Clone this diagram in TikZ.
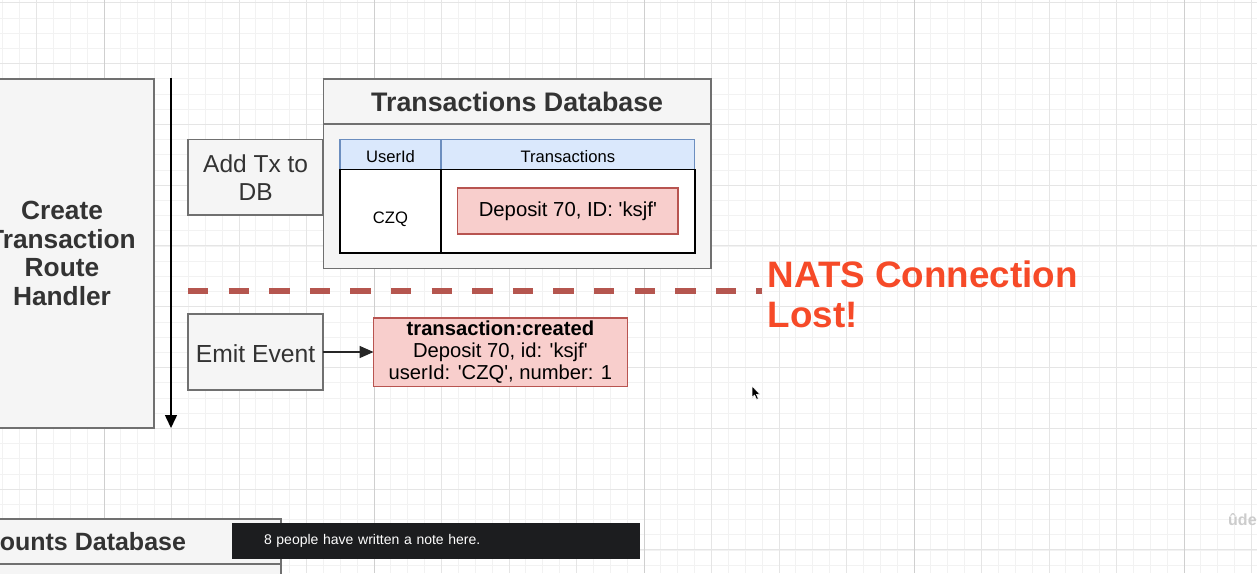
\documentclass[tikz,border=0pt]{standalone}
\usepackage{fontspec}
\setmainfont{Liberation Sans}[Ligatures=TeXOff]
\usetikzlibrary{positioning,arrows.meta}

\definecolor{boxfill}{HTML}{F5F5F5}
\definecolor{boxline}{HTML}{707070}
\definecolor{boxtext}{HTML}{333333}
\definecolor{redfill}{HTML}{F8CECC}
\definecolor{redline}{HTML}{B85450}
\definecolor{bluefill}{HTML}{DAE8FC}
\definecolor{blueline}{HTML}{6C8EBF}
\definecolor{lostred}{HTML}{F64A28}
\definecolor{lossdash}{HTML}{B5564F}
\definecolor{tipbg}{HTML}{1C1D1F}

\begin{document}
\begin{tikzpicture}[x=1pt, y=-1pt,
  greybox/.style={draw=boxline, fill=boxfill, line width=1.6, text=boxtext,
                  inner sep=0, outer sep=0, align=center},
  redbox/.style={draw=redline, fill=redfill, line width=1.3, inner sep=0,
                 outer sep=0, align=center},
  headcell/.style={draw=blueline, fill=bluefill, line width=1.3, inner sep=0,
                   outer sep=0, text height=17pt, text depth=0pt,
                   font=\fontsize{16.6}{19}\selectfont},
  cell/.style={draw=black, fill=white, line width=1.6, inner sep=0, outer sep=0,
               font=\fontsize{16.6}{19}\selectfont},
  arr/.style={-{Triangle[length=13pt, width=12pt]}, line width=1.5},
  gridminor/.style={draw=black!5, line width=0.8},
  gridmid/.style={draw=black!10, line width=0.9},
  griddark/.style={draw=black!19, line width=1}
]
\useasboundingbox (0,0) rectangle (1257,573);
\clip (0,0) rectangle (1257,573);
\fill[white] (0,0) rectangle (1257,573);

% Grid
\foreach \i in {0,...,74} \draw[gridminor] ({2.75+16.875*\i},0) -- ({2.75+16.875*\i},573);
\foreach \j in {0,...,37} \draw[gridminor] (0,{2.7+15.2*\j}) -- (1257,{2.7+15.2*\j});
\foreach \i in {0,...,18} \draw[gridmid] ({36.5+67.5*\i},0) -- ({36.5+67.5*\i},573);
\foreach \j in {0,...,9} \draw[gridmid] (0,{2.7+60.8*\j}) -- (1257,{2.7+60.8*\j});
\foreach \i in {0,...,4} \draw[griddark] ({104+270*\i},0) -- ({104+270*\i},573);

% Route handler
\node[greybox, minimum width=184, minimum height=349,
      font=\fontsize{26.3}{28.8}\selectfont\bfseries] (handler) at (62,253.5)
  {Create\\Transaction\\Route\\Handler};
\coordinate (flowtop) at (171,78);
\coordinate (flowend) at (171,428);
\draw[arr] (flowtop) -- (flowend);

% Steps
\node[greybox, minimum width=135.3, minimum height=75.7,
      font=\fontsize{24.5}{28}\selectfont] (addtx) at (255.6,177.2) {Add Tx to\\DB};
\node[greybox, minimum width=135.3, minimum height=76, text height=20pt, text depth=0pt,
      font=\fontsize{24.7}{28}\selectfont] (emit) at (255.6,352) {Emit Event};

% Transactions database
\node[greybox, minimum width=387.7, minimum height=45,
      font=\fontsize{26.8}{30}\selectfont\bfseries] (dbtitle) at (517.2,101.5)
  {Transactions Database};
\node[greybox, minimum width=387.7, minimum height=144.3, below=0pt of dbtitle] (dbbody) {};
\node[headcell, minimum width=101, minimum height=30] (uidhead) at (390.5,154.3) {UserId};
\node[headcell, minimum width=253.7, minimum height=30, right=0pt of uidhead] (txhead) {Transactions};
\node[cell, minimum width=101, minimum height=83.4, text height=24pt, text depth=0pt,
      below=0pt of uidhead] (uidcell) {CZQ};
\node[cell, minimum width=253.7, minimum height=83.4, right=0pt of uidcell] (txcell) {};
\node[redbox, minimum width=220.3, minimum height=46,
      font=\fontsize{20.3}{23}\selectfont] (dep) at (txcell) {Deposit 70, ID: 'ksjf'};

% Lost connection
\coordinate (lossL) at (188,291);
\coordinate (lossR) at (762,291);
\draw[lossdash, line width=6, dash pattern=on 20.3 off 20.3] (lossL) -- (lossR);
\node[anchor=north west, inner sep=0, align=left, text=lostred,
      font=\fontsize{36.8}{40}\selectfont\bfseries] (lost) at (767.5,261)
  {NATS Connection\\Lost!};

% Event
\node[redbox, minimum width=253.7, minimum height=68.3, right=50.3pt of emit,
      font=\fontsize{20.2}{22}\selectfont] (evt)
  {\textbf{transaction:created}\\Deposit 70, id: 'ksjf'\\userId: 'CZQ', number: 1};
\draw[arr, draw=black!85, -{Triangle[length=14pt, width=12pt]}] (emit) -- (evt);

% Accounts database (cut off)
\node[greybox, minimum width=422, minimum height=45,
      font=\fontsize{25}{28}\selectfont\bfseries] (acctitle) at (70,541.5)
  {Accounts Database};
\node[greybox, minimum width=422, minimum height=60, below=0pt of acctitle] (accbody) {};

% Overlay
\node[fill=tipbg, text=white, minimum width=408, minimum height=35.7, inner xsep=32,
      inner ysep=0, text width=344, align=left, font=\fontsize{14}{16}\selectfont]
  (note) at (436,541) {8 people have written a note here.};
\node[anchor=west, inner sep=0, text=black!20, font=\fontsize{16}{18}\selectfont\bfseries]
  (mark) at (1228,521) {ûdemy};
\filldraw[fill=black, draw=white, line width=0.5]
  (752,386) -- (752,397.5) -- (754.6,395) -- (756.6,399.4) -- (758.3,398.6)
  -- (756.4,394.3) -- (759.8,394.3) -- cycle;

\end{tikzpicture}
\end{document}
